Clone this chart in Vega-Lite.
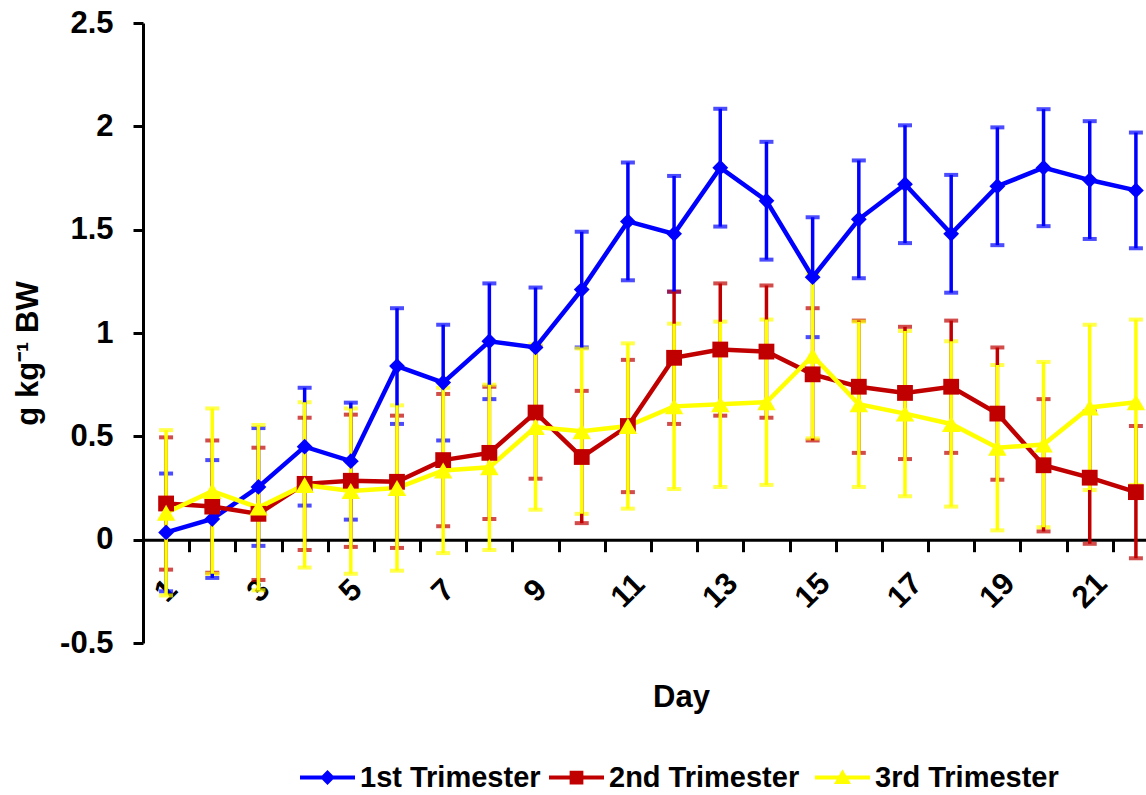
{
  "$schema": "https://vega.github.io/schema/vega-lite/v6.json",
  "width": 1001,
  "height": 620,
  "autosize": {"type": "none"},
  "padding": {"left": 143, "top": 23, "right": 2, "bottom": 152},
  "background": "white",
  "config": {
    "view": {"stroke": null},
    "font": "Liberation Sans",
    "axis": {"grid": false, "domainColor": "black", "tickColor": "black", "labelColor": "black", "titleColor": "black", "labelFont": "Liberation Sans", "titleFont": "Liberation Sans"},
    "legend": {"title": null, "orient": "none", "legendY": 727, "symbolSize": 3025, "symbolStrokeWidth": 0, "labelFontSize": 29, "labelFontWeight": "bold", "labelFont": "Liberation Sans", "labelColor": "black", "labelOffset": 5, "labelLimit": 400, "padding": 0}
  },
  "data": {
    "values": [
      {"day": 1, "series": "1st Trimester", "mean": 0.035, "sd": 0.285},
      {"day": 2, "series": "1st Trimester", "mean": 0.10, "sd": 0.285},
      {"day": 3, "series": "1st Trimester", "mean": 0.255, "sd": 0.285},
      {"day": 4, "series": "1st Trimester", "mean": 0.45, "sd": 0.285},
      {"day": 5, "series": "1st Trimester", "mean": 0.38, "sd": 0.283},
      {"day": 6, "series": "1st Trimester", "mean": 0.84, "sd": 0.28},
      {"day": 7, "series": "1st Trimester", "mean": 0.76, "sd": 0.28},
      {"day": 8, "series": "1st Trimester", "mean": 0.96, "sd": 0.28},
      {"day": 9, "series": "1st Trimester", "mean": 0.93, "sd": 0.29},
      {"day": 10, "series": "1st Trimester", "mean": 1.21, "sd": 0.28},
      {"day": 11, "series": "1st Trimester", "mean": 1.54, "sd": 0.285},
      {"day": 12, "series": "1st Trimester", "mean": 1.48, "sd": 0.28},
      {"day": 13, "series": "1st Trimester", "mean": 1.80, "sd": 0.285},
      {"day": 14, "series": "1st Trimester", "mean": 1.64, "sd": 0.285},
      {"day": 15, "series": "1st Trimester", "mean": 1.27, "sd": 0.29},
      {"day": 16, "series": "1st Trimester", "mean": 1.55, "sd": 0.285},
      {"day": 17, "series": "1st Trimester", "mean": 1.72, "sd": 0.285},
      {"day": 18, "series": "1st Trimester", "mean": 1.48, "sd": 0.285},
      {"day": 19, "series": "1st Trimester", "mean": 1.71, "sd": 0.285},
      {"day": 20, "series": "1st Trimester", "mean": 1.80, "sd": 0.283},
      {"day": 21, "series": "1st Trimester", "mean": 1.74, "sd": 0.285},
      {"day": 22, "series": "1st Trimester", "mean": 1.69, "sd": 0.28},
      {"day": 1, "series": "2nd Trimester", "mean": 0.175, "sd": 0.32},
      {"day": 2, "series": "2nd Trimester", "mean": 0.16, "sd": 0.32},
      {"day": 3, "series": "2nd Trimester", "mean": 0.125, "sd": 0.32},
      {"day": 4, "series": "2nd Trimester", "mean": 0.27, "sd": 0.32},
      {"day": 5, "series": "2nd Trimester", "mean": 0.285, "sd": 0.32},
      {"day": 6, "series": "2nd Trimester", "mean": 0.28, "sd": 0.32},
      {"day": 7, "series": "2nd Trimester", "mean": 0.385, "sd": 0.32},
      {"day": 8, "series": "2nd Trimester", "mean": 0.42, "sd": 0.32},
      {"day": 9, "series": "2nd Trimester", "mean": 0.615, "sd": 0.32},
      {"day": 10, "series": "2nd Trimester", "mean": 0.40, "sd": 0.32},
      {"day": 11, "series": "2nd Trimester", "mean": 0.55, "sd": 0.32},
      {"day": 12, "series": "2nd Trimester", "mean": 0.88, "sd": 0.32},
      {"day": 13, "series": "2nd Trimester", "mean": 0.92, "sd": 0.32},
      {"day": 14, "series": "2nd Trimester", "mean": 0.91, "sd": 0.32},
      {"day": 15, "series": "2nd Trimester", "mean": 0.80, "sd": 0.32},
      {"day": 16, "series": "2nd Trimester", "mean": 0.74, "sd": 0.32},
      {"day": 17, "series": "2nd Trimester", "mean": 0.71, "sd": 0.32},
      {"day": 18, "series": "2nd Trimester", "mean": 0.74, "sd": 0.32},
      {"day": 19, "series": "2nd Trimester", "mean": 0.61, "sd": 0.32},
      {"day": 20, "series": "2nd Trimester", "mean": 0.36, "sd": 0.32},
      {"day": 21, "series": "2nd Trimester", "mean": 0.30, "sd": 0.32},
      {"day": 22, "series": "2nd Trimester", "mean": 0.23, "sd": 0.32},
      {"day": 1, "series": "3rd Trimester", "mean": 0.13, "sd": 0.40},
      {"day": 2, "series": "3rd Trimester", "mean": 0.235, "sd": 0.40},
      {"day": 3, "series": "3rd Trimester", "mean": 0.155, "sd": 0.40},
      {"day": 4, "series": "3rd Trimester", "mean": 0.265, "sd": 0.40},
      {"day": 5, "series": "3rd Trimester", "mean": 0.235, "sd": 0.40},
      {"day": 6, "series": "3rd Trimester", "mean": 0.25, "sd": 0.40},
      {"day": 7, "series": "3rd Trimester", "mean": 0.335, "sd": 0.40},
      {"day": 8, "series": "3rd Trimester", "mean": 0.35, "sd": 0.40},
      {"day": 9, "series": "3rd Trimester", "mean": 0.545, "sd": 0.40},
      {"day": 10, "series": "3rd Trimester", "mean": 0.525, "sd": 0.40},
      {"day": 11, "series": "3rd Trimester", "mean": 0.55, "sd": 0.40},
      {"day": 12, "series": "3rd Trimester", "mean": 0.645, "sd": 0.40},
      {"day": 13, "series": "3rd Trimester", "mean": 0.655, "sd": 0.40},
      {"day": 14, "series": "3rd Trimester", "mean": 0.665, "sd": 0.40},
      {"day": 15, "series": "3rd Trimester", "mean": 0.89, "sd": 0.40},
      {"day": 16, "series": "3rd Trimester", "mean": 0.655, "sd": 0.40},
      {"day": 17, "series": "3rd Trimester", "mean": 0.61, "sd": 0.40},
      {"day": 18, "series": "3rd Trimester", "mean": 0.56, "sd": 0.40},
      {"day": 19, "series": "3rd Trimester", "mean": 0.445, "sd": 0.40},
      {"day": 20, "series": "3rd Trimester", "mean": 0.46, "sd": 0.40},
      {"day": 21, "series": "3rd Trimester", "mean": 0.64, "sd": 0.40},
      {"day": 22, "series": "3rd Trimester", "mean": 0.665, "sd": 0.40}
    ]
  },
  "encoding": {
    "x": {
      "field": "day",
      "type": "ordinal",
      "scale": {"type": "band", "paddingInner": 0, "paddingOuter": 0, "range": [0, 1016]},
      "axis": {
        "title": "Day",
        "orient": "bottom",
        "offset": -103.3,
        "domainWidth": 3,
        "tickWidth": 3,
        "tickSize": 12,
        "tickBand": "extent",
        "labelExpr": "datum.value % 2 == 1 ? datum.label : ''",
        "labelAngle": -45,
        "labelAlign": "center",
        "labelBaseline": "middle",
        "labelPadding": 39,
        "labelOverlap": false,
        "labelFontSize": 31,
        "labelFontWeight": "bold",
        "titleFontSize": 31,
        "titleFontWeight": "bold",
        "titleAlign": "center",
        "titleBaseline": "alphabetic",
        "titleX": 538,
        "titleY": 167
      }
    },
    "y": {
      "field": "mean",
      "type": "quantitative",
      "scale": {"domain": [-0.5, 2.5], "nice": false, "zero": false},
      "axis": {
        "title": "g kg⁻¹ BW",
        "values": [-0.5, 0, 0.5, 1, 1.5, 2, 2.5],
        "labelExpr": "'' + datum.value",
        "labelFlush": false,
        "domainWidth": 3,
        "tickWidth": 3,
        "tickSize": 10,
        "labelPadding": 20,
        "labelFontSize": 31,
        "labelFontWeight": "bold",
        "titleFontSize": 31,
        "titleFontWeight": "bold",
        "titleAngle": 270,
        "titleAlign": "center",
        "titleBaseline": "alphabetic",
        "titleX": -106,
        "titleY": 330
      }
    }
  },
  "layer": [
    {
      "mark": {"type": "errorbar", "ticks": {"size": 14, "thickness": 4}, "rule": {"strokeWidth": 3.5}},
      "encoding": {
        "yError": {"field": "sd"},
        "color": {"field": "series", "type": "nominal", "scale": {"domain": ["1st Trimester", "2nd Trimester", "3rd Trimester"], "range": ["#0000FF", "#C00000", "#FFFF00"]}, "legend": null}
      }
    },
    {
      "mark": {"type": "line", "strokeWidth": 4.5},
      "encoding": {
        "color": {"field": "series", "type": "nominal", "legend": null}
      }
    },
    {
      "transform": [{"filter": "datum.series == '1st Trimester'"}],
      "mark": {"type": "point", "shape": "diamond", "filled": true, "size": 250, "opacity": 1},
      "encoding": {"color": {"field": "series", "type": "nominal", "legend": null}}
    },
    {
      "transform": [{"filter": "datum.series == '2nd Trimester'"}],
      "mark": {"type": "point", "shape": "square", "filled": true, "size": 250, "opacity": 1},
      "encoding": {"color": {"field": "series", "type": "nominal", "legend": null}}
    },
    {
      "transform": [{"filter": "datum.series == '3rd Trimester'"}],
      "mark": {"type": "point", "shape": "triangle-up", "filled": true, "size": 340, "opacity": 1},
      "encoding": {"color": {"field": "series", "type": "nominal", "legend": null}}
    },
    {
      "transform": [{"filter": "false"}],
      "mark": {"type": "point", "filled": true, "fill": "#0000FF", "opacity": 1},
      "encoding": {
        "shape": {
          "field": "series", "type": "nominal",
          "scale": {"domain": ["1st Trimester"], "range": ["M-1,-0.075H1V0.075H-1ZM0,-0.27L0.27,0L0,0.27L-0.27,0Z"]},
          "legend": {"legendX": 157, "symbolFillColor": "#0000FF"}
        }
      }
    },
    {
      "transform": [{"filter": "false"}],
      "mark": {"type": "point", "filled": true, "fill": "#C00000", "opacity": 1},
      "encoding": {
        "shape": {
          "field": "series", "type": "nominal",
          "scale": {"domain": ["2nd Trimester"], "range": ["M-1,-0.075H1V0.075H-1ZM-0.25,-0.25H0.25V0.25H-0.25Z"]},
          "legend": {"legendX": 406, "symbolFillColor": "#C00000"}
        }
      }
    },
    {
      "transform": [{"filter": "false"}],
      "mark": {"type": "point", "filled": true, "fill": "#FFFF00", "opacity": 1},
      "encoding": {
        "shape": {
          "field": "series", "type": "nominal",
          "scale": {"domain": ["3rd Trimester"], "range": ["M-1,-0.075H1V0.075H-1ZM0,-0.3L0.31,0.24H-0.31Z"]},
          "legend": {"legendX": 672, "symbolFillColor": "#FFFF00"}
        }
      }
    }
  ],
  "resolve": {"scale": {"shape": "independent"}, "legend": {"shape": "independent"}}
}
